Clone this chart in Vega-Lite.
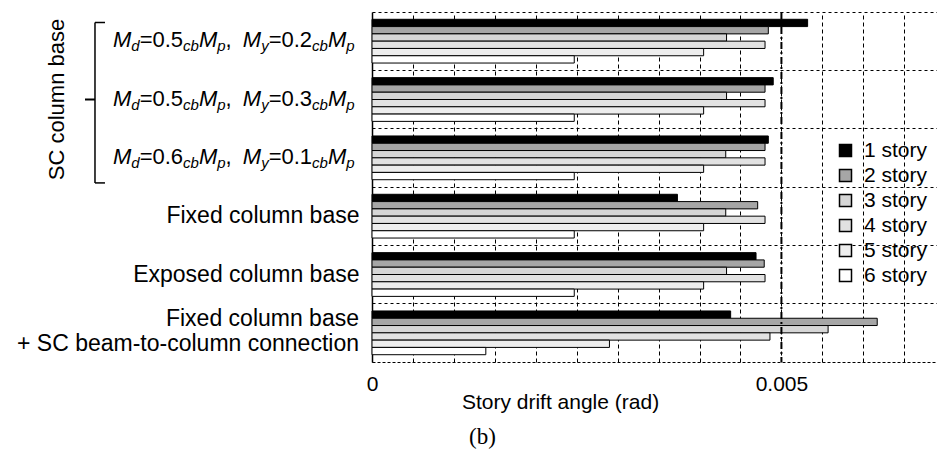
{
  "$schema": "https://vega.github.io/schema/vega-lite/v6.json",
  "width": 565,
  "height": 350,
  "autosize": {"type": "none"},
  "padding": {"left": 372, "top": 12, "right": 0, "bottom": 98},
  "background": "white",
  "config": {"view": {"stroke": null}, "font": "Liberation Sans", "text": {"font": "Liberation Sans", "color": "#000"}},
  "title": {"text": "(b)", "orient": "bottom", "font": "Liberation Serif", "fontSize": 23, "fontWeight": "normal", "color": "#000", "anchor": "middle", "dx": -172, "offset": 14},
  "datasets": {
    "bars": [
      {"group": "sc1", "story": "1 story", "drift": 0.00532},
      {"group": "sc1", "story": "2 story", "drift": 0.00484},
      {"group": "sc1", "story": "3 story", "drift": 0.00433},
      {"group": "sc1", "story": "4 story", "drift": 0.00480},
      {"group": "sc1", "story": "5 story", "drift": 0.00405},
      {"group": "sc1", "story": "6 story", "drift": 0.00247},
      {"group": "sc2", "story": "1 story", "drift": 0.00490},
      {"group": "sc2", "story": "2 story", "drift": 0.00480},
      {"group": "sc2", "story": "3 story", "drift": 0.00433},
      {"group": "sc2", "story": "4 story", "drift": 0.00480},
      {"group": "sc2", "story": "5 story", "drift": 0.00405},
      {"group": "sc2", "story": "6 story", "drift": 0.00247},
      {"group": "sc3", "story": "1 story", "drift": 0.00484},
      {"group": "sc3", "story": "2 story", "drift": 0.00480},
      {"group": "sc3", "story": "3 story", "drift": 0.00432},
      {"group": "sc3", "story": "4 story", "drift": 0.00480},
      {"group": "sc3", "story": "5 story", "drift": 0.00405},
      {"group": "sc3", "story": "6 story", "drift": 0.00247},
      {"group": "fixed", "story": "1 story", "drift": 0.00373},
      {"group": "fixed", "story": "2 story", "drift": 0.00471},
      {"group": "fixed", "story": "3 story", "drift": 0.00432},
      {"group": "fixed", "story": "4 story", "drift": 0.00480},
      {"group": "fixed", "story": "5 story", "drift": 0.00405},
      {"group": "fixed", "story": "6 story", "drift": 0.00247},
      {"group": "exposed", "story": "1 story", "drift": 0.00469},
      {"group": "exposed", "story": "2 story", "drift": 0.00479},
      {"group": "exposed", "story": "3 story", "drift": 0.00433},
      {"group": "exposed", "story": "4 story", "drift": 0.00480},
      {"group": "exposed", "story": "5 story", "drift": 0.00405},
      {"group": "exposed", "story": "6 story", "drift": 0.00247},
      {"group": "fixsc", "story": "1 story", "drift": 0.00438},
      {"group": "fixsc", "story": "2 story", "drift": 0.00617},
      {"group": "fixsc", "story": "3 story", "drift": 0.00557},
      {"group": "fixsc", "story": "4 story", "drift": 0.00486},
      {"group": "fixsc", "story": "5 story", "drift": 0.00290},
      {"group": "fixsc", "story": "6 story", "drift": 0.00139}
    ],
    "sc": [
      {"group": "sc1", "md": "=0.5", "my": "=0.2"},
      {"group": "sc2", "md": "=0.5", "my": "=0.3"},
      {"group": "sc3", "md": "=0.6", "my": "=0.1"}
    ],
    "twoline": [
      {"group": "fixsc", "l1": "Fixed column base", "l2": "+ SC beam-to-column connection"}
    ],
    "bracket": [
      {"a": "sc1", "m": "sc2", "b": "sc3", "label": "SC column base"}
    ]
  },
  "layer": [
    {
      "data": {"name": "bars"},
      "mark": {"type": "bar", "stroke": "#000", "strokeWidth": 1},
      "encoding": {
        "y": {
          "field": "group", "type": "nominal",
          "scale": {"domain": ["sc1", "sc2", "sc3", "fixed", "exposed", "fixsc"], "paddingInner": 0, "paddingOuter": 0},
          "axis": {
            "title": null, "bandPosition": 0, "grid": true, "gridDash": [3, 3], "gridColor": "#000", "gridOpacity": 1, "gridWidth": 1,
            "ticks": false, "domain": true, "domainColor": "#000", "domainWidth": 1.5,
            "labelPadding": 13, "labelFont": "Liberation Sans", "labelFontSize": 23, "labelColor": "#000",
            "labelLimit": 400, "labelOverlap": false,
            "labelExpr": "datum.value == 'fixed' ? 'Fixed column base' : (datum.value == 'exposed' ? 'Exposed column base' : '')"
          }
        },
        "yOffset": {
          "field": "story", "type": "nominal",
          "scale": {"domain": ["1 story", "2 story", "3 story", "4 story", "5 story", "6 story"], "paddingInner": 0, "paddingOuter": 1.24}
        },
        "x": {
          "field": "drift", "type": "quantitative",
          "scale": {"domain": [0, 0.0069], "nice": false, "zero": true},
          "axis": {
            "values": [0, 0.0005, 0.001, 0.0015, 0.002, 0.0025, 0.003, 0.0035, 0.004, 0.0045, 0.005, 0.0055, 0.006, 0.0065],
            "grid": true, "gridDash": [4, 3], "gridColor": "#000", "gridOpacity": 1, "gridWidth": 1,
            "ticks": false, "domain": true, "domainDash": [3, 2], "domainColor": "#000", "domainWidth": 1,
            "labelExpr": "datum.value == 0 ? '0' : (abs(datum.value - 0.005) < 0.0000001 ? '0.005' : '')",
            "labelFont": "Liberation Sans", "labelFontSize": 21, "labelColor": "#000", "labelPadding": 11, "labelFlush": false, "labelOverlap": false,
            "title": "Story drift angle (rad)", "titleFont": "Liberation Sans", "titleFontSize": 21, "titleFontWeight": "normal", "titleColor": "#000",
            "titleX": 188, "titleY": 46, "titleBaseline": "alphabetic", "titleAlign": "center"
          }
        },
        "fill": {
          "field": "story", "type": "nominal",
          "scale": {"domain": ["1 story", "2 story", "3 story", "4 story", "5 story", "6 story"], "range": ["#000000", "#a6a6a6", "#d6d6d6", "#e2e2e2", "#ededed", "#ffffff"]},
          "legend": {
            "title": null, "orient": "none", "legendX": 463, "legendY": 128, "padding": 0,
            "symbolType": "square", "symbolSize": 144, "symbolStrokeColor": "#000", "symbolStrokeWidth": 1.5,
            "labelFont": "Liberation Sans", "labelFontSize": 21, "labelColor": "#000", "labelOffset": 8, "rowPadding": 3
          }
        }
      }
    },
    {
      "data": {"values": [{}]},
      "mark": {"type": "rule", "color": "#000", "strokeWidth": 2, "strokeDash": [7, 3, 2, 3]},
      "encoding": {"x": {"datum": 0.005, "type": "quantitative"}}
    },
    {
      "data": {"name": "twoline"},
      "mark": {"type": "text", "align": "right", "baseline": "middle", "fontSize": 23, "dx": -13, "dy": -14},
      "encoding": {"x": {"datum": 0, "type": "quantitative"}, "y": {"field": "group", "type": "nominal"}, "text": {"field": "l1"}}
    },
    {
      "data": {"name": "twoline"},
      "mark": {"type": "text", "align": "right", "baseline": "middle", "fontSize": 23, "dx": -13, "dy": 11},
      "encoding": {"x": {"datum": 0, "type": "quantitative"}, "y": {"field": "group", "type": "nominal"}, "text": {"field": "l2"}}
    },
    {
      "data": {"name": "sc"},
      "mark": {"type": "text", "align": "left", "baseline": "alphabetic", "fontStyle": "italic", "fontSize": 22, "dx": -259, "dy": 6},
      "encoding": {"x": {"datum": 0, "type": "quantitative"}, "y": {"field": "group", "type": "nominal"}, "text": {"value": "M"}}
    },
    {
      "data": {"name": "sc"},
      "mark": {"type": "text", "align": "left", "baseline": "alphabetic", "fontStyle": "italic", "fontSize": 15, "dx": -240.67, "dy": 10},
      "encoding": {"x": {"datum": 0, "type": "quantitative"}, "y": {"field": "group", "type": "nominal"}, "text": {"value": "d"}}
    },
    {
      "data": {"name": "sc"},
      "mark": {"type": "text", "align": "left", "baseline": "alphabetic", "fontSize": 22, "dx": -232.33, "dy": 6},
      "encoding": {"x": {"datum": 0, "type": "quantitative"}, "y": {"field": "group", "type": "nominal"}, "text": {"field": "md"}}
    },
    {
      "data": {"name": "sc"},
      "mark": {"type": "text", "align": "left", "baseline": "alphabetic", "fontStyle": "italic", "fontSize": 15, "dx": -188.9, "dy": 10},
      "encoding": {"x": {"datum": 0, "type": "quantitative"}, "y": {"field": "group", "type": "nominal"}, "text": {"value": "cb"}}
    },
    {
      "data": {"name": "sc"},
      "mark": {"type": "text", "align": "left", "baseline": "alphabetic", "fontStyle": "italic", "fontSize": 22, "dx": -173.06, "dy": 6},
      "encoding": {"x": {"datum": 0, "type": "quantitative"}, "y": {"field": "group", "type": "nominal"}, "text": {"value": "M"}}
    },
    {
      "data": {"name": "sc"},
      "mark": {"type": "text", "align": "left", "baseline": "alphabetic", "fontStyle": "italic", "fontSize": 15, "dx": -154.73, "dy": 10},
      "encoding": {"x": {"datum": 0, "type": "quantitative"}, "y": {"field": "group", "type": "nominal"}, "text": {"value": "p"}}
    },
    {
      "data": {"name": "sc"},
      "mark": {"type": "text", "align": "left", "baseline": "alphabetic", "fontSize": 22, "dx": -146.39, "dy": 6},
      "encoding": {"x": {"datum": 0, "type": "quantitative"}, "y": {"field": "group", "type": "nominal"}, "text": {"value": ","}}
    },
    {
      "data": {"name": "sc"},
      "mark": {"type": "text", "align": "left", "baseline": "alphabetic", "fontStyle": "italic", "fontSize": 22, "dx": -129.16, "dy": 6},
      "encoding": {"x": {"datum": 0, "type": "quantitative"}, "y": {"field": "group", "type": "nominal"}, "text": {"value": "M"}}
    },
    {
      "data": {"name": "sc"},
      "mark": {"type": "text", "align": "left", "baseline": "alphabetic", "fontStyle": "italic", "fontSize": 15, "dx": -110.83, "dy": 10},
      "encoding": {"x": {"datum": 0, "type": "quantitative"}, "y": {"field": "group", "type": "nominal"}, "text": {"value": "y"}}
    },
    {
      "data": {"name": "sc"},
      "mark": {"type": "text", "align": "left", "baseline": "alphabetic", "fontSize": 22, "dx": -103.33, "dy": 6},
      "encoding": {"x": {"datum": 0, "type": "quantitative"}, "y": {"field": "group", "type": "nominal"}, "text": {"field": "my"}}
    },
    {
      "data": {"name": "sc"},
      "mark": {"type": "text", "align": "left", "baseline": "alphabetic", "fontStyle": "italic", "fontSize": 15, "dx": -59.9, "dy": 10},
      "encoding": {"x": {"datum": 0, "type": "quantitative"}, "y": {"field": "group", "type": "nominal"}, "text": {"value": "cb"}}
    },
    {
      "data": {"name": "sc"},
      "mark": {"type": "text", "align": "left", "baseline": "alphabetic", "fontStyle": "italic", "fontSize": 22, "dx": -44.06, "dy": 6},
      "encoding": {"x": {"datum": 0, "type": "quantitative"}, "y": {"field": "group", "type": "nominal"}, "text": {"value": "M"}}
    },
    {
      "data": {"name": "sc"},
      "mark": {"type": "text", "align": "left", "baseline": "alphabetic", "fontStyle": "italic", "fontSize": 15, "dx": -25.73, "dy": 10},
      "encoding": {"x": {"datum": 0, "type": "quantitative"}, "y": {"field": "group", "type": "nominal"}, "text": {"value": "p"}}
    },
    {
      "data": {"name": "bracket"},
      "mark": {"type": "text", "angle": 270, "align": "center", "baseline": "middle", "fontSize": 22, "dy": -5},
      "encoding": {"x": {"datum": -0.00378, "type": "quantitative"}, "y": {"field": "m", "type": "nominal"}, "text": {"field": "label"}}
    },
    {
      "data": {"name": "bracket"},
      "mark": {"type": "rule", "color": "#000", "strokeWidth": 1.5},
      "encoding": {
        "x": {"datum": -0.003383, "type": "quantitative"},
        "y": {"field": "a", "type": "nominal", "bandPosition": 0.18},
        "y2": {"field": "b", "bandPosition": 0.93}
      }
    },
    {
      "data": {"name": "bracket"},
      "mark": {"type": "rule", "color": "#000", "strokeWidth": 1.5},
      "encoding": {
        "x": {"datum": -0.003383, "type": "quantitative"},
        "x2": {"datum": -0.003261},
        "y": {"field": "a", "type": "nominal", "bandPosition": 0.18}
      }
    },
    {
      "data": {"name": "bracket"},
      "mark": {"type": "rule", "color": "#000", "strokeWidth": 1.5},
      "encoding": {
        "x": {"datum": -0.003383, "type": "quantitative"},
        "x2": {"datum": -0.003261},
        "y": {"field": "b", "type": "nominal", "bandPosition": 0.93}
      }
    },
    {
      "data": {"name": "bracket"},
      "mark": {"type": "rule", "color": "#000", "strokeWidth": 2},
      "encoding": {
        "x": {"datum": -0.003505, "type": "quantitative"},
        "x2": {"datum": -0.003383},
        "y": {"field": "m", "type": "nominal", "bandPosition": 0.5}
      }
    }
  ]
}
